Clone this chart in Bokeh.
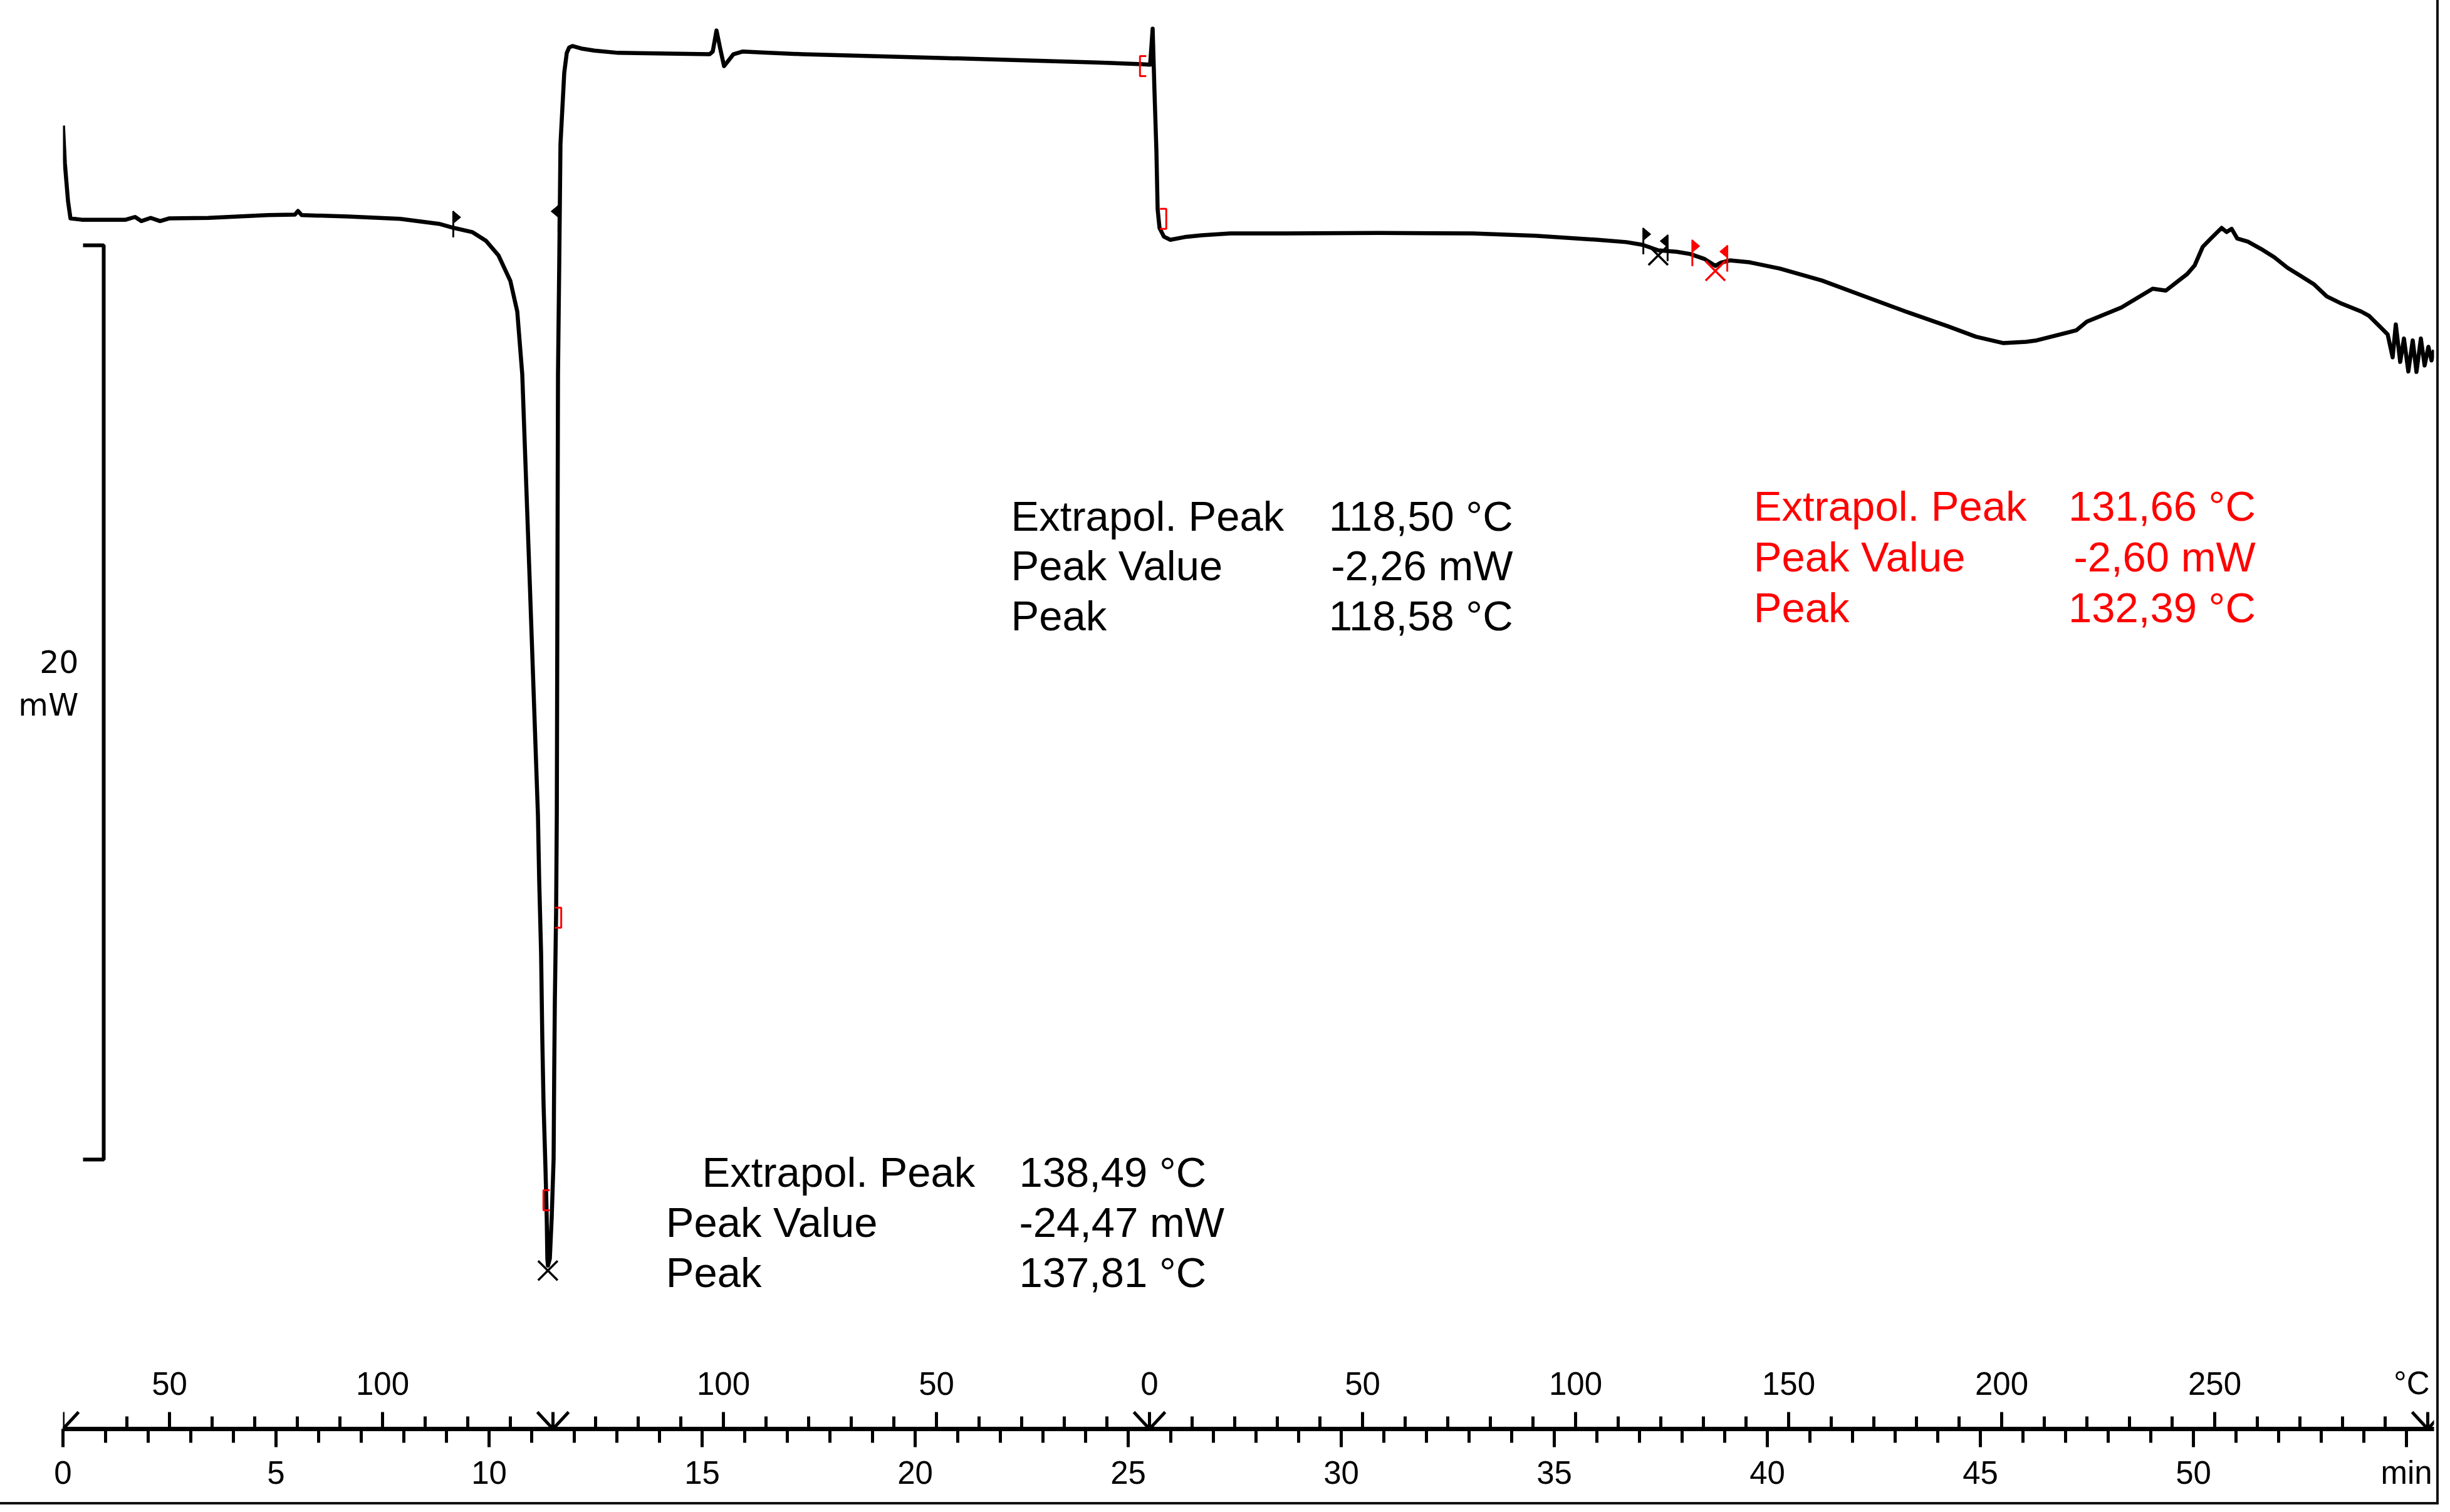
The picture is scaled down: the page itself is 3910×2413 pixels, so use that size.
import numpy as np
from bokeh.plotting import figure
from bokeh.models import ColumnDataSource, FixedTicker, LinearAxis, Range1d
from bokeh.core.properties import value
from bokeh.embed import file_html
from bokeh.resources import INLINE

# ---------------- data ----------------
time_min = [0.000, 0.044, 0.118, 0.176, 0.441, 1.471, 1.691, 1.838, 2.059, 2.279,
            2.500, 3.412, 4.809, 5.441, 5.515, 5.603, 6.691, 7.912, 8.824, 9.176,
            9.603, 9.926, 10.221, 10.500, 10.662, 10.779, 10.956, 11.147, 11.176, 11.221,
            11.250, 11.279, 11.324, 11.353, 11.368, 11.382, 11.426, 11.471, 11.515, 11.529,
            11.544, 11.574, 11.590, 11.618, 11.647, 11.676, 11.765, 11.824, 11.882, 11.956,
            12.191, 12.471, 13.029, 15.176, 15.250, 15.338, 15.426, 15.515, 15.618, 15.735,
            15.956, 16.412, 17.353, 20.588, 24.265, 25.338, 25.515, 25.574, 25.618, 25.662,
            25.691, 25.735, 25.838, 25.985, 26.324, 26.721, 27.397, 28.676, 30.882, 33.088,
            34.559, 36.029, 36.691, 37.074, 37.441, 37.868, 38.191, 38.529, 38.779, 38.912,
            39.118, 39.574, 40.294, 41.279, 42.265, 43.250, 44.235, 44.897, 45.544, 46.074,
            46.324, 47.250, 47.500, 48.309, 49.044, 49.353, 49.853, 50.029, 50.221, 50.412,
            50.662, 50.779, 50.897, 51.029, 51.279, 51.588, 51.897, 52.206, 52.515, 52.824,
            53.132, 53.441, 53.941, 54.118, 54.368, 54.559, 54.676, 54.750, 54.853, 54.941,
            55.044, 55.147, 55.235, 55.338, 55.426, 55.515, 55.588, 55.647]

heat_flow_mw = [0.47, -0.35, -1.18, -1.56, -1.59, -1.59, -1.53, -1.62, -1.55, -1.62,
                -1.56, -1.55, -1.49, -1.48, -1.40, -1.49, -1.52, -1.57, -1.68, -1.77,
                -1.86, -2.05, -2.37, -2.93, -3.60, -4.97, -9.54, -14.61, -16.02, -17.63,
                -19.53, -20.94, -22.34, -23.40, -24.32, -24.47, -24.32, -23.40, -22.14, -20.23,
                -18.68, -16.72, -14.61, -4.97, -2.56, 0.06, 1.63, 2.06, 2.18, 2.21,
                2.15, 2.11, 2.06, 2.03, 2.09, 2.55, 2.15, 1.77, 1.89, 2.03,
                2.09, 2.07, 2.03, 1.95, 1.85, 1.81, 1.80, 2.59, 1.19, -0.08,
                -1.36, -1.77, -1.96, -2.03, -1.97, -1.93, -1.89, -1.89, -1.88, -1.89,
                -1.94, -2.03, -2.08, -2.14, -2.26, -2.29, -2.34, -2.45, -2.60, -2.53,
                -2.48, -2.52, -2.66, -2.92, -3.26, -3.60, -3.92, -4.15, -4.29, -4.26,
                -4.23, -4.01, -3.82, -3.51, -3.10, -3.14, -2.78, -2.59, -2.18, -2.00,
                -1.77, -1.86, -1.79, -2.00, -2.07, -2.23, -2.41, -2.64, -2.82, -3.00,
                -3.27, -3.41, -3.60, -3.69, -3.92, -4.10, -4.60, -3.88, -4.70, -4.19,
                -4.91, -4.23, -4.92, -4.19, -4.78, -4.37, -4.67, -4.44]

# evaluated peaks (X markers)
peak_time = [11.38, 37.44, 38.78]
peak_value = [-24.47, -2.26, -2.60]
peak_color = ["black", "black", "red"]

# integration limit flags (direction: 1 = points right, -1 = points left)
flag_time = [9.16, 11.63, 37.09, 37.66, 38.24, 39.06]
flag_value = [-1.77, -1.64, -2.14, -2.29, -2.40, -2.52]
flag_dir = [1, -1, 1, -1, 1, -1]
flag_color = ["black", "black", "black", "black", "red", "red"]

# red brackets (1 = "[", -1 = "]")
bracket_time = [11.35, 11.62, 25.35, 25.82]
bracket_value = [-23.04, -16.86, 1.77, -1.57]
bracket_dir = [1, -1, 1, -1]

# temperature program: segments
seg_start = [0.0, 11.5, 25.5]
seg_end = [11.5, 25.5, 55.5]
seg_T0 = [25.0, 140.0, 0.0]
seg_rate = [10.0, -10.0, 10.0]
seg_ticks = [list(range(40, 131, 10)), list(range(130, 9, -10)), list(range(10, 291, 10))]
seg_labels = [[50, 100], [100, 50, 0], [50, 100, 150, 200, 250]]

time_major = list(range(0, 56, 5))
time_minor = list(range(0, 56, 1))

# scale bar
scale_top = -2.15
scale_span = 20.0
scale_label_y = [-11.28, -12.21]
scale_label_text = ["20", "mW"]

# result texts
black1_names = ["Extrapol. Peak", "Peak Value", "Peak"]
black1_vals = ["138,49 °C", "-24,47 mW", "137,81 °C"]
black2_names = ["Extrapol. Peak", "Peak Value", "Peak"]
black2_vals = ["118,50 °C", "-2,26 mW", "118,58 °C"]
red_names = ["Extrapol. Peak", "Peak Value", "Peak"]
red_vals = ["131,66 °C", "-2,60 mW", "132,39 °C"]

# ---------------- figure ----------------
W, H = 3888, 2397
MBL, MBR, MBT, MBB = 100, 4, 8, 117
x0, x1 = 0.0, 55.647
y0, y1 = -28.045, 3.10
ppm = (W - MBL - MBR) / (x1 - x0)      # px per minute
pmw = (H - MBT - MBB) / (y1 - y0)      # px per mW

p = figure(width=W, height=H, x_range=Range1d(x0, x1), y_range=Range1d(y0, y1),
           toolbar_location=None, output_backend="svg", y_axis_location=None,
           min_border_left=MBL, min_border_right=MBR, min_border_top=MBT,
           min_border_bottom=MBB)
p.grid.visible = False
p.outline_line_color = None
p.background_fill_color = "white"
p.border_fill_color = "white"
p.styles = {"outline": "4px solid #111"}

ax = p.xaxis[0]
ax.ticker = FixedTicker(ticks=time_major, minor_ticks=time_minor)
ax.major_label_overrides = {55: "min"}
ax.axis_line_width = 7
ax.axis_line_color = "black"
ax.major_tick_line_width = 5
ax.minor_tick_line_width = 5
ax.major_tick_out = 29
ax.major_tick_in = 0
ax.minor_tick_out = 22
ax.minor_tick_in = 0
ax.major_label_standoff = 12
ax.major_label_text_font = "Liberation Sans"
ax.major_label_text_font_size = "51px"
ax.major_label_text_color = "black"

# left axis used only for the "20 mW" scale text
yax = LinearAxis(ticker=FixedTicker(ticks=scale_label_y, minor_ticks=[]),
                 major_label_overrides=dict(zip(scale_label_y, scale_label_text)),
                 axis_line_color=None, major_tick_line_color=None,
                 minor_tick_line_color=None, major_tick_out=0, major_tick_in=0,
                 major_label_standoff=-25, major_label_text_font="DejaVu Sans",
                 major_label_text_font_size="49px", major_label_text_color="black")
p.add_layout(yax, "left")

FONT = value("Liberation Sans")

# curve
src = ColumnDataSource(dict(t=time_min, q=heat_flow_mw))
p.line("t", "q", source=src, line_color="black", line_width=6.5, line_join="round")

# temperature scale on top of the time axis line
tx0, ty0, tx1, ty1 = [], [], [], []
lab_x, lab_t = [], []
for s0, T0, r, ticks, labs in zip(seg_start, seg_T0, seg_rate, seg_ticks, seg_labels):
    for T in ticks:
        tt = s0 + (T - T0) / r
        L = 27 if T % 50 == 0 else 20
        tx0.append(tt); tx1.append(tt); ty0.append(y0); ty1.append(y0 + L / pmw)
    for T in labs:
        lab_x.append(s0 + (T - T0) / r)
        lab_t.append(str(T))
bounds = [seg_start[0]] + seg_end
for b in bounds:
    for d in (-1, 1):
        tx0.append(b); ty0.append(y0); tx1.append(b + d * 25 / ppm); ty1.append(y0 + 27 / pmw)
    tx0.append(b); ty0.append(y0); tx1.append(b); ty1.append(y0 + 27 / pmw)
p.segment(tx0, ty0, tx1, ty1, line_color="black", line_width=5)
p.text(lab_x, [y0 + 73 / pmw] * len(lab_x), text=lab_t, text_font=FONT,
       text_font_size="51px", text_align="center", text_baseline="middle", text_color="black")
p.text([x1 - 7 / ppm], [y0 + 73 / pmw], text=["°C"], text_font=FONT,
       text_font_size="51px", text_align="right", text_baseline="middle", text_color="black")

# scale bar 20 mW
sb_x = 0.956
stub = 33 / ppm
p.line([sb_x - stub, sb_x, sb_x, sb_x - stub],
       [scale_top, scale_top, scale_top - scale_span, scale_top - scale_span],
       line_color="black", line_width=6)

# flags
fx0, fy0, fx1, fy1, fcol = [], [], [], [], []
pxs, pys = [], []
for t, q, d, c in zip(flag_time, flag_value, flag_dir, flag_color):
    fx0.append(t); fx1.append(t); fy0.append(q - 15 / pmw); fy1.append(q + 27 / pmw); fcol.append(c)
    pxs.append([t, t, t + d * 12 / ppm])
    pys.append([q + 27 / pmw, q + 7 / pmw, q + 17 / pmw])
p.segment(fx0, fy0, fx1, fy1, line_color=fcol, line_width=3)
p.patches(pxs, pys, fill_color=fcol, line_color=fcol, line_width=1)

# brackets
bxs, bys = [], []
for t, q, d in zip(bracket_time, bracket_value, bracket_dir):
    hw, hh = 5 / ppm, 16 / pmw
    bxs.append([t + d * hw, t - d * hw, t - d * hw, t + d * hw])
    bys.append([q + hh, q + hh, q - hh, q - hh])
p.multi_line(bxs, bys, line_color="red", line_width=3)

# peak markers
p.scatter(peak_time, [v - 8 / pmw for v in peak_value], marker="x", size=44,
          line_color=peak_color, line_width=3.5)

# result texts
def block(names, vals, name_x, val_x, ys, color, val_align):
    p.text(name_x, ys, text=names, text_font=FONT, text_font_size="67px",
           text_align="left", text_baseline="middle", text_color=color)
    p.text([val_x] * len(vals), ys, text=vals, text_font=FONT, text_font_size="67px",
           text_align=val_align, text_baseline="middle", text_color=color)

block(black1_names, black1_vals, [15.0, 14.15, 14.15], 22.44, [-22.43, -23.52, -24.62],
      "black", "left")
block(black2_names, black2_vals, [22.25] * 3, 34.03, [-8.07, -9.16, -10.25], "black", "right")
block(red_names, red_vals, [39.68] * 3, 51.46, [-7.85, -8.96, -10.07], "red", "right")

open("out.html", "w").write(file_html(p, INLINE))
